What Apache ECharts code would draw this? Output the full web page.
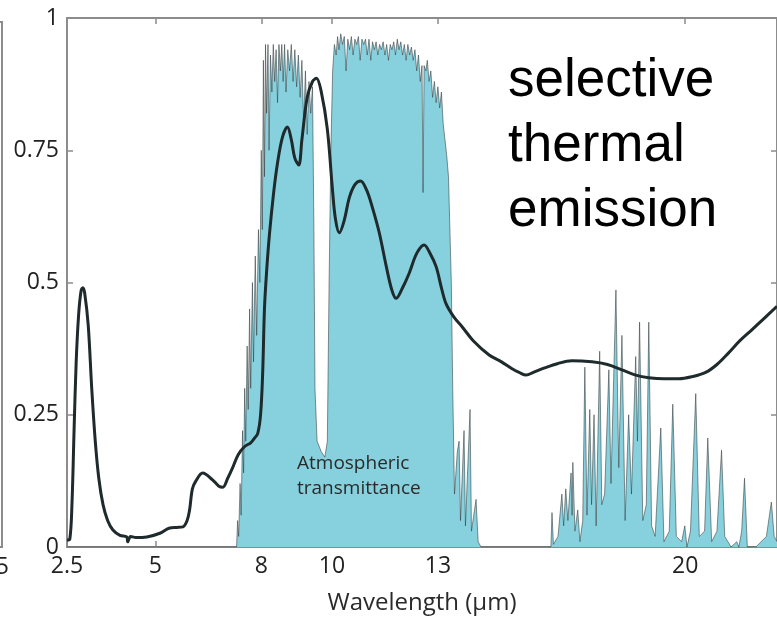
<!DOCTYPE html>
<html>
<head>
<meta charset="utf-8">
<script src="https://cdn.jsdelivr.net/npm/echarts@6/dist/echarts.min.js"></script>
<style>
html,body{margin:0;padding:0;background:#fff;}
#chart{width:777px;height:621px;}
</style>
</head>
<body>
<div id="chart"></div>
<script>
// ---- data ----
// x-axis tick labels (wavelength, µm)
var xTicks = [2.5, 5, 8, 10, 13, 20];
// y-axis tick labels
var yTicks = [0, 0.25, 0.5, 0.75, 1];

// selective thermal emission curve (black line)
var emisX = [2.5, 2.58, 2.64, 2.7, 2.76, 2.83, 2.9, 2.95, 3.0, 3.1, 3.2, 3.3, 3.4, 3.52, 3.65, 3.8, 4.0, 4.19, 4.22, 4.3, 4.45, 4.76, 5.13, 5.41, 5.6, 5.78, 5.9, 5.97, 6.05, 6.15, 6.34, 6.62, 6.8, 6.91, 7.05, 7.19, 7.35, 7.53, 7.7, 7.8, 7.9, 7.98, 8.04, 8.09, 8.15, 8.23, 8.35, 8.46, 8.6, 8.74, 8.85, 8.95, 9.06, 9.15, 9.3, 9.45, 9.56, 9.7, 9.87, 10.01, 10.1, 10.21, 10.35, 10.49, 10.65, 10.81, 10.98, 11.14, 11.34, 11.54, 11.7, 11.82, 12.0, 12.19, 12.4, 12.61, 12.78, 12.95, 13.1, 13.23, 13.45, 13.69, 14.0, 14.45, 14.8, 15.1, 15.3, 15.5, 15.7, 16.0, 16.4, 16.79, 17.36, 17.8, 18.21, 18.6, 18.97, 19.4, 19.82, 20.2, 20.58, 20.9, 21.23, 21.55, 21.88, 22.2, 22.6];
var emisY = [0.013, 0.015, 0.08, 0.22, 0.35, 0.44, 0.485, 0.49, 0.48, 0.42, 0.3, 0.2, 0.13, 0.08, 0.05, 0.032, 0.022, 0.019, 0.01, 0.02, 0.018, 0.019, 0.026, 0.036, 0.037, 0.038, 0.05, 0.07, 0.11, 0.125, 0.14, 0.127, 0.115, 0.113, 0.13, 0.15, 0.175, 0.19, 0.197, 0.205, 0.215, 0.25, 0.33, 0.45, 0.52, 0.59, 0.67, 0.726, 0.775, 0.794, 0.77, 0.735, 0.722, 0.77, 0.85, 0.88, 0.886, 0.86, 0.79, 0.68, 0.62, 0.594, 0.618, 0.66, 0.685, 0.692, 0.675, 0.643, 0.594, 0.53, 0.485, 0.47, 0.49, 0.518, 0.555, 0.571, 0.555, 0.53, 0.49, 0.46, 0.435, 0.416, 0.39, 0.363, 0.35, 0.337, 0.33, 0.325, 0.33, 0.338, 0.347, 0.352, 0.35, 0.345, 0.335, 0.325, 0.32, 0.318, 0.318, 0.322, 0.33, 0.345, 0.367, 0.39, 0.41, 0.43, 0.455];

// atmospheric transmittance (cyan area)
var transX = [2.5, 7.2, 7.3, 7.33, 7.36, 7.4, 7.43, 7.47, 7.5, 7.53, 7.56, 7.6, 7.63, 7.67, 7.7, 7.75, 7.78, 7.83, 7.87, 7.92, 7.96, 8.0, 8.03, 8.06, 8.09, 8.12, 8.15, 8.19, 8.22, 8.26, 8.3, 8.34, 8.38, 8.42, 8.46, 8.5, 8.54, 8.58, 8.62, 8.66, 8.7, 8.75, 8.8, 8.85, 8.9, 8.95, 9.0, 9.05, 9.1, 9.15, 9.2, 9.25, 9.3, 9.35, 9.4, 9.45, 9.49, 9.52, 9.58, 9.7, 9.8, 9.87, 9.92, 9.97, 10.02, 10.07, 10.12, 10.16, 10.2, 10.25, 10.3, 10.35, 10.4, 10.45, 10.5, 10.55, 10.6, 10.65, 10.7, 10.75, 10.8, 10.85, 10.9, 10.95, 11.0, 11.05, 11.1, 11.15, 11.2, 11.25, 11.3, 11.35, 11.4, 11.45, 11.5, 11.55, 11.6, 11.65, 11.7, 11.75, 11.8, 11.85, 11.9, 11.95, 12.0, 12.05, 12.1, 12.15, 12.2, 12.25, 12.3, 12.35, 12.4, 12.45, 12.5, 12.55, 12.58, 12.61, 12.66, 12.7, 12.75, 12.8, 12.85, 12.9, 12.95, 13.0, 13.05, 13.1, 13.15, 13.2, 13.25, 13.3, 13.38, 13.42, 13.47, 13.55, 13.6, 13.64, 13.74, 13.78, 13.91, 13.95, 14.08, 14.14, 14.22, 16.1, 16.2, 16.23, 16.27, 16.4, 16.51, 16.56, 16.62, 16.68, 16.77, 16.8, 16.82, 16.88, 16.96, 17.02, 17.1, 17.16, 17.22, 17.3, 17.35, 17.42, 17.48, 17.58, 17.64, 17.72, 17.84, 17.9, 18.04, 18.12, 18.21, 18.3, 18.4, 18.48, 18.6, 18.65, 18.71, 18.8, 18.9, 18.97, 19.05, 19.15, 19.31, 19.4, 19.55, 19.65, 19.75, 19.9, 19.99, 20.05, 20.15, 20.3, 20.4, 20.55, 20.64, 20.75, 20.9, 21.03, 21.12, 21.3, 21.46, 21.52, 21.6, 21.68, 21.76, 22.0, 22.3, 22.44, 22.52, 22.6];
var transY = [0, 0, 0, 0.05, 0.02, 0.12, 0.06, 0.22, 0.14, 0.3, 0.2, 0.38, 0.26, 0.45, 0.3, 0.5, 0.35, 0.55, 0.4, 0.6, 0.5, 0.75, 0.6, 0.92, 0.7, 0.95, 0.82, 0.95, 0.75, 0.93, 0.86, 0.95, 0.88, 0.94, 0.84, 0.95, 0.9, 0.95, 0.88, 0.95, 0.86, 0.94, 0.9, 0.95, 0.88, 0.94, 0.87, 0.93, 0.85, 0.92, 0.8, 0.9, 0.78, 0.88, 0.82, 0.87, 0.6, 0.3, 0.2, 0.18, 0.17, 0.2, 0.5, 0.75, 0.9, 0.95, 0.93, 0.965, 0.94, 0.97, 0.95, 0.965, 0.9, 0.96, 0.94, 0.965, 0.93, 0.96, 0.95, 0.965, 0.92, 0.96, 0.95, 0.96, 0.93, 0.96, 0.92, 0.955, 0.94, 0.955, 0.93, 0.95, 0.94, 0.955, 0.93, 0.95, 0.92, 0.95, 0.94, 0.955, 0.93, 0.96, 0.94, 0.955, 0.93, 0.95, 0.92, 0.95, 0.93, 0.945, 0.92, 0.94, 0.9, 0.93, 0.88, 0.91, 0.67, 0.91, 0.9, 0.92, 0.88, 0.9, 0.85, 0.88, 0.84, 0.87, 0.83, 0.86, 0.8, 0.8, 0.74, 0.7, 0.5, 0.3, 0.1, 0.18, 0.2, 0.05, 0.22, 0.04, 0.26, 0.03, 0.09, 0.01, 0, 0, 0.0, 0.065, 0.005, 0.02, 0.1, 0.04, 0.11, 0.05, 0.14, 0.06, 0.16, 0.03, 0.07, 0.01, 0.05, 0.34, 0.06, 0.26, 0.08, 0.25, 0.04, 0.37, 0.08, 0.1, 0.335, 0.12, 0.486, 0.15, 0.4, 0.05, 0.25, 0.1, 0.36, 0.2, 0.425, 0.05, 0.08, 0.425, 0.04, 0.02, 0.225, 0.01, 0.03, 0.27, 0.02, 0.01, 0.04, 0.0, 0.03, 0.29, 0.02, 0.03, 0.206, 0.01, 0.03, 0.183, 0.02, 0.0, 0.01, 0.0, 0.03, 0.13, 0.0, 0.0, 0.02, 0.085, 0.02, 0.01];

function pairs(xs, ys){ return xs.map(function(x,i){ return [x, ys[i]]; }); }

var axisGray = '#8c8c8c';
var labelFont = 'Open Sans';

var chart = echarts.init(document.getElementById('chart'), null, {renderer:'canvas'});
chart.setOption({
  animation: false,
  backgroundColor: '#ffffff',
  grid: {left: 67, top: 18, width: 712, height: 529, show: false},
  xAxis: [{
    type: 'value', min: 2.5, max: 22.6, position: 'bottom',
    name: 'Wavelength (μm)', nameLocation: 'middle', nameGap: 44,
    nameTextStyle: {fontFamily: labelFont, fontSize: 24, color: '#2a2a2a'},
    axisLine: {show: true, onZero: false, lineStyle: {color: axisGray, width: 2}},
    axisTick: {show: true, inside: true, length: 6, customValues: xTicks, lineStyle: {color: axisGray, width: 1.5}},
    axisLabel: {show: true, customValues: xTicks, margin: 8, fontFamily: labelFont, fontSize: 23, color: '#222'},
    splitLine: {show: false}
  }, {
    type: 'value', min: 2.5, max: 22.6, position: 'top',
    axisLine: {show: true, onZero: false, lineStyle: {color: axisGray, width: 2}},
    axisTick: {show: true, inside: true, length: 6, customValues: xTicks, lineStyle: {color: axisGray, width: 1.5}},
    axisLabel: {show: false},
    splitLine: {show: false}
  }],
  yAxis: [{
    type: 'value', min: 0, max: 1, interval: 0.25, position: 'left',
    axisLine: {show: true, onZero: false, lineStyle: {color: axisGray, width: 2}},
    axisTick: {show: true, inside: true, length: 6, lineStyle: {color: axisGray, width: 1.5}},
    axisLabel: {show: true, margin: 8, fontFamily: labelFont, fontSize: 23, color: '#222',
      customValues: yTicks},
    splitLine: {show: false}
  }, {
    type: 'value', min: 0, max: 1, interval: 0.25, position: 'right',
    axisLine: {show: true, onZero: false, lineStyle: {color: axisGray, width: 2}},
    axisTick: {show: true, inside: true, length: 6, lineStyle: {color: axisGray, width: 1.5}},
    axisLabel: {show: false},
    splitLine: {show: false}
  }],
  series: [{
    type: 'line', name: 'Atmospheric transmittance',
    data: pairs(transX, transY),
    showSymbol: false, smooth: false, clip: true,
    lineStyle: {color: 'rgba(50,58,60,0.7)', width: 0.8},
    areaStyle: {color: '#87d1de', opacity: 1},
    z: 2
  }, {
    type: 'line', name: 'Selective thermal emission',
    data: pairs(emisX, emisY),
    showSymbol: false, smooth: 0.35, clip: true,
    lineStyle: {color: '#1e2a2b', width: 3},
    z: 3
  }],
  graphic: [
    {type: 'polyline', shape: {points: [[-6, 22], [2, 22], [2, 547], [-6, 547]]},
     style: {stroke: '#8c8c8c', lineWidth: 2, fill: null}, z: 10},
    {type: 'text', x: 9, y: 556, style: {text: '25', align: 'right', fontFamily: labelFont, fontSize: 23, fill: '#222'}, z: 10},
    {type: 'text', x: 297, y: 451, style: {text: 'Atmospheric\ntransmittance', fontFamily: labelFont, fontSize: 19, lineHeight: 25, fill: '#2a2a2a'}, z: 10},
    {type: 'text', x: 508, y: 49, style: {text: 'selective\nthermal\nemission', fontFamily: 'Liberation Sans', fontSize: 53, lineHeight: 65, fill: '#000'}, z: 10}
  ]
});
</script>
</body>
</html>
